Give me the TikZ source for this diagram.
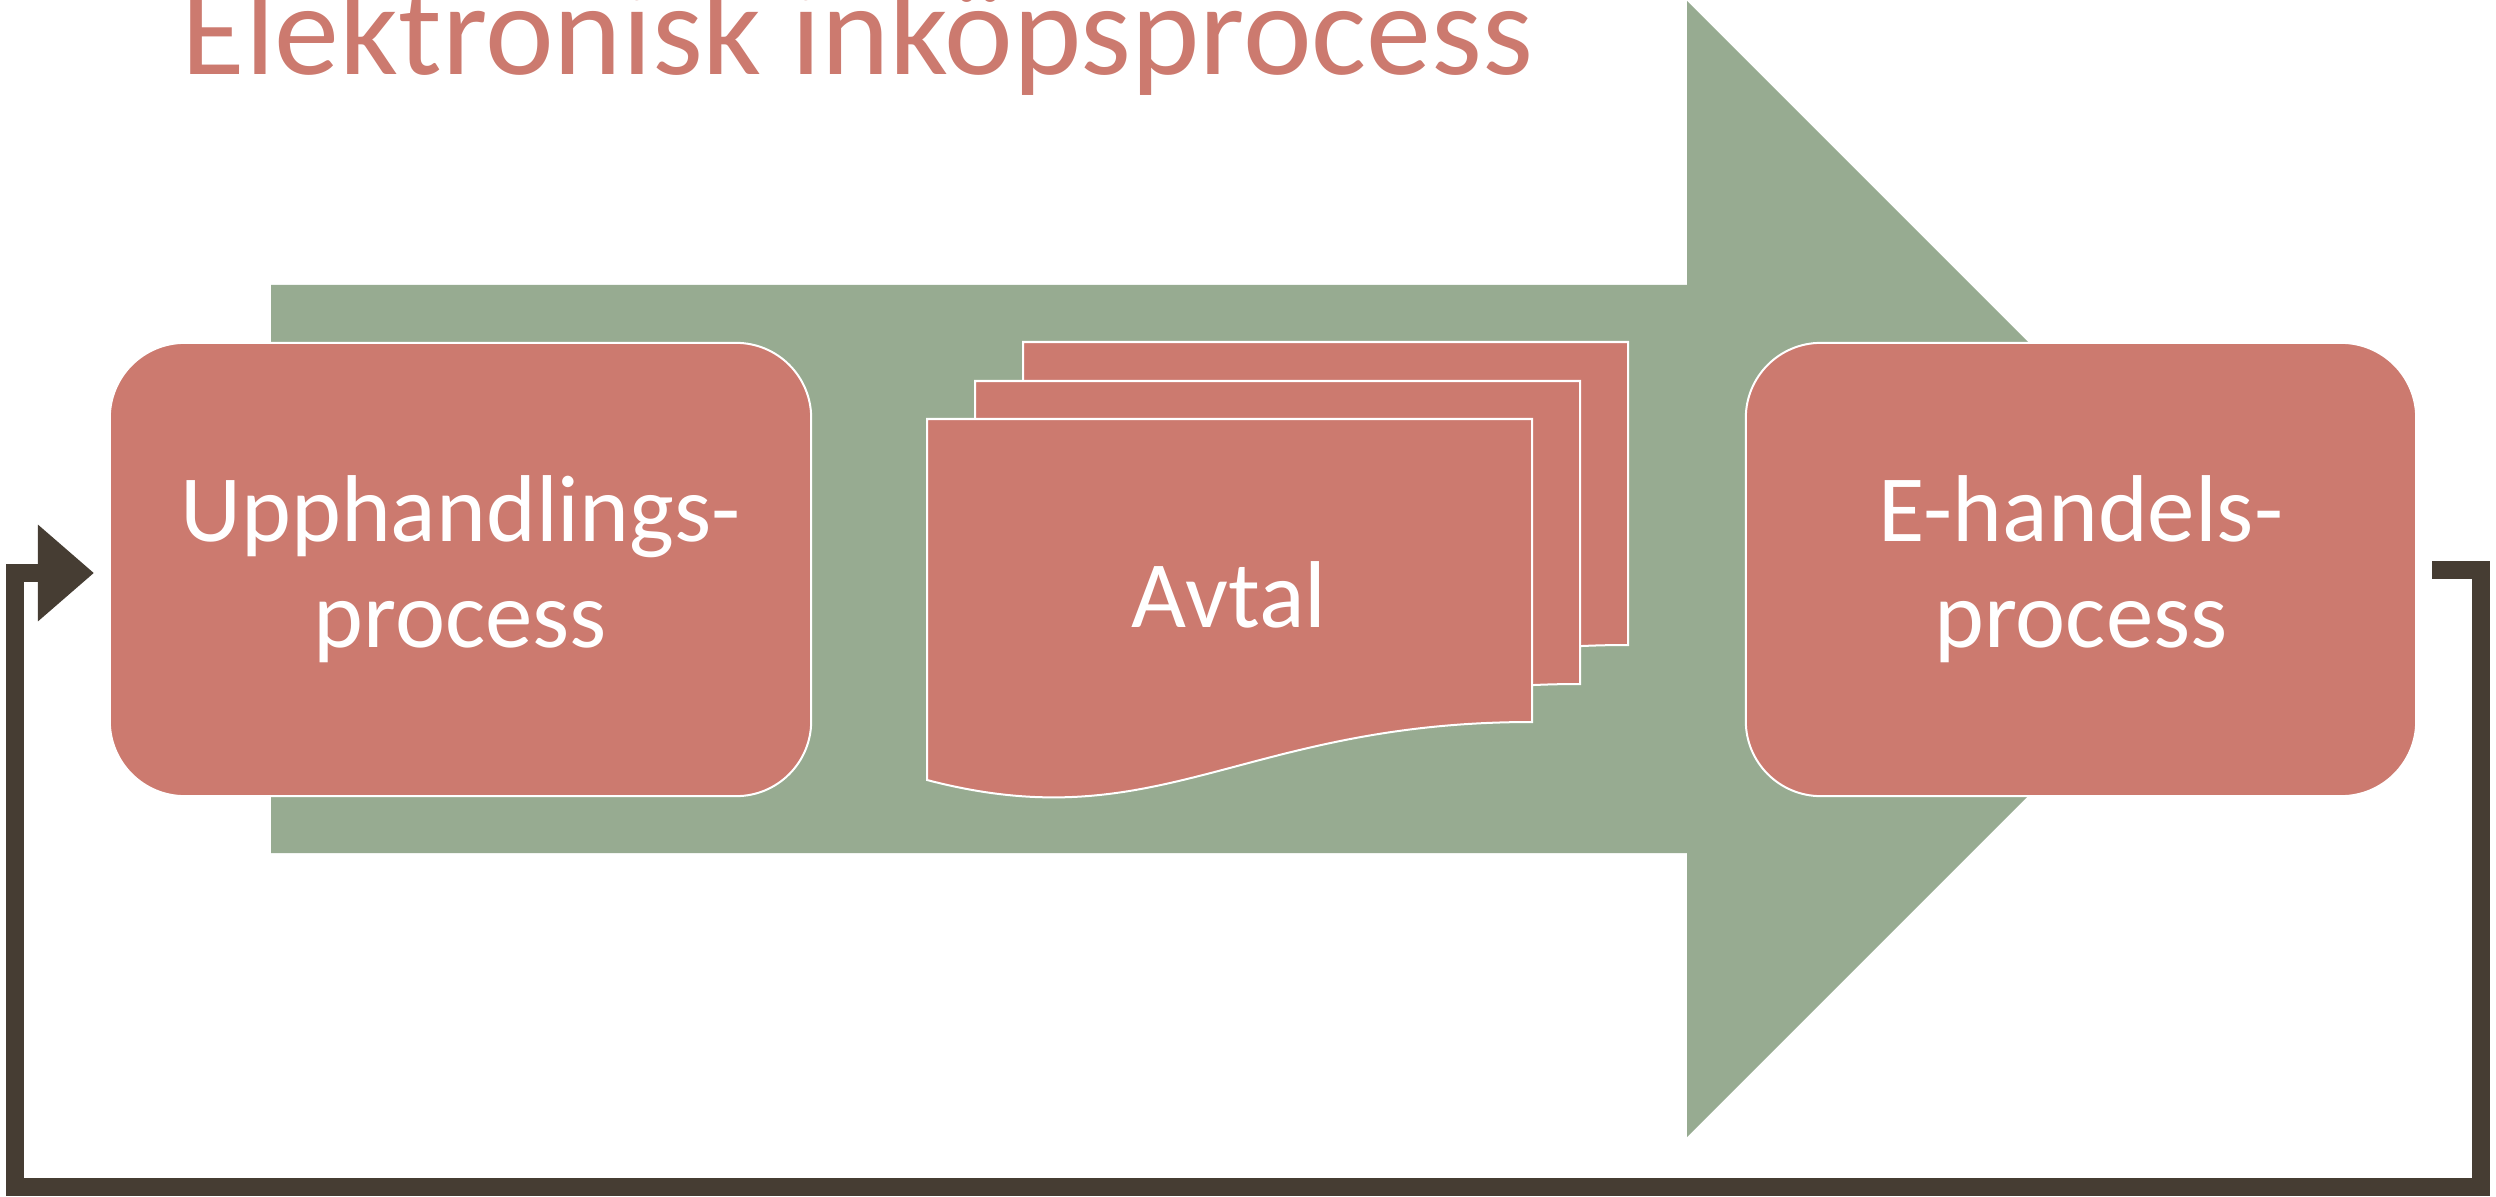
\documentclass[tikz,border=0pt]{standalone}
\usepackage{fontspec}
\setmainfont{Carlito}
\usetikzlibrary{arrows.meta}
\definecolor{rosebox}{HTML}{CC7A6F}
\definecolor{sage}{HTML}{97AB91}
\definecolor{loopbrown}{HTML}{463D33}
\begin{document}
\begin{tikzpicture}[x=0.01cm,y=-0.01cm,
  procbox/.style={draw=white, line width=0.02cm, fill=rosebox, rounded corners=0.75cm,
    minimum height=4.53cm, inner sep=0pt, align=center, text=white,
    font=\fontsize{27}{30.2}\selectfont},
  docsheet/.style={draw=white, line width=0.02cm, fill=rosebox},
  bigarrow/.style={fill=sage, draw=none},
  looparrow/.style={draw=loopbrown, line width=0.18cm,
    -{Triangle[length=0.56cm,width=0.93cm]}},
  doclabel/.style={anchor=base, inner sep=0pt, text=white, font=\fontsize{27}{30.2}\selectfont},
  titletext/.style={anchor=base west, inner sep=0pt, text=rosebox, font=\fontsize{37}{40}\selectfont}
  ]
\useasboundingbox (0,0) rectangle (2496,1197);
\fill[white] (0,0) rectangle (2496,1197);

% big green process arrow
\fill[bigarrow] (271,285) -- (1687,285) -- (1687,1) -- (2255,569) -- (1687,1137)
  -- (1687,853) -- (271,853) -- cycle;

% title
\node[titletext] (title) at (181,75) {Elektronisk inköpsprocess};

% process boxes
\node[procbox, minimum width=7.01cm] (upph) at (460.5,569.5) {Upphandlings-\\process};
\node[procbox, minimum width=6.70cm] (ehandel) at (2081,569.5) {E-handels-\\process};

% stacked documents
\foreach \dx/\dy in {96/-77, 48/-38, 0/0} {
  \begin{scope}[shift={(\dx,\dy)}]
    \draw[docsheet] (927,419) -- (1532,419) -- (1532,722)
      .. controls (1240,722) and (1160,841) .. (927,780) -- cycle;
  \end{scope}
}
\node[doclabel] (avtal) at (1229,627) {Avtal};

% feedback loop
\coordinate (loopstart) at (2432,570);
\coordinate (loopend) at (94,573);
\draw[looparrow] (loopstart) -- (2481,570) -- (2481,1187) -- (15,1187) -- (15,573) -- (loopend);
\end{tikzpicture}
\end{document}
